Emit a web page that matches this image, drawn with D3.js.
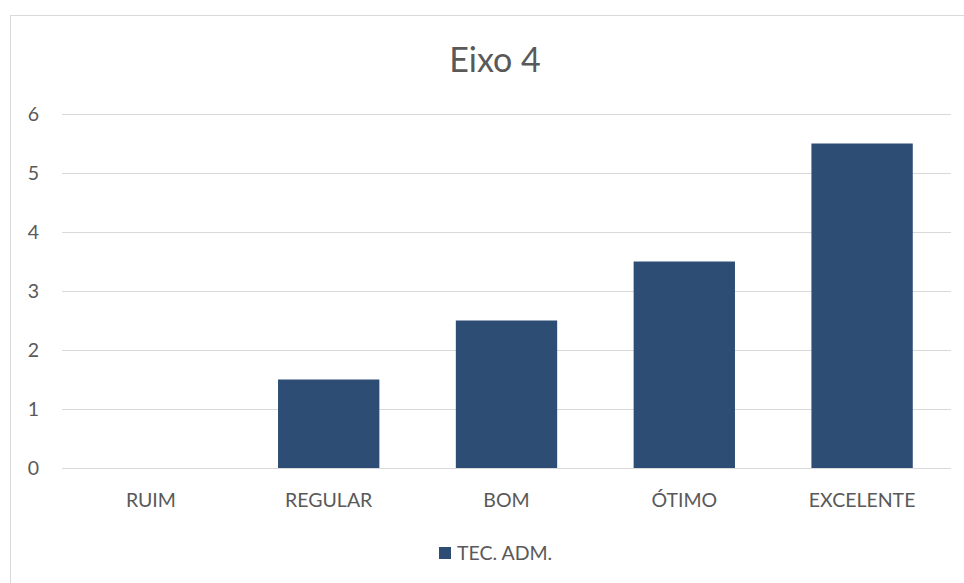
<html lang="pt">
<head>
    <meta charset="UTF-8">
    <title>Eixo 4</title>
    <style>
        body { margin: 0; background: #fff; }
        svg#chart { display: block; font-family: Lato, "Open Sans", sans-serif; }
        .tick text { fill: #595959; font-size: 19.5px; font-family: Lato, "Open Sans", sans-serif; }
    </style>
</head>
<body>
    <svg id="chart"></svg>
    <script src="https://cdnjs.cloudflare.com/ajax/libs/d3/7.8.5/d3.min.js"></script>
    <script>
        // Data
        var categories = ["RUIM", "REGULAR", "BOM", "ÓTIMO", "EXCELENTE"];
        var values = [0, 1.5, 2.5, 3.5, 5.5];
        var yTicks = [0, 1, 2, 3, 4, 5, 6];
        var seriesName = "TEC. ADM.";

        var width = 964, height = 583;
        var margin = { top: 114, right: 13, bottom: 115, left: 62 };
        var barColour = "#2E4D74";

        var svg = d3.select("#chart")
            .attr("width", width)
            .attr("height", height);

        // chart border
        svg.append("rect")
            .attr("x", 10.5).attr("y", 15.5)
            .attr("width", width).attr("height", height)
            .attr("fill", "#fff")
            .attr("stroke", "#d9d9d9")
            .attr("stroke-width", 1);

        var x = d3.scaleBand()
            .domain(categories)
            .range([margin.left, width - margin.right])
            .paddingInner(0.43)
            .paddingOuter(0.215);

        var y = d3.scaleLinear()
            .domain([0, 6])
            .range([height - margin.bottom, margin.top]);

        // gridlines
        svg.append("g")
            .selectAll("line")
            .data(yTicks)
            .enter().append("line")
            .attr("x1", margin.left)
            .attr("x2", width - margin.right)
            .attr("y1", function(d) { return Math.round(y(d)) + 0.5; })
            .attr("y2", function(d) { return Math.round(y(d)) + 0.5; })
            .attr("stroke", "#d9d9d9")
            .attr("stroke-width", 1);

        // y axis labels
        var yAxis = svg.append("g")
            .attr("transform", "translate(" + (margin.left - 9) + ",0)")
            .call(d3.axisLeft(y).tickValues(yTicks).tickFormat(d3.format("d")).tickSize(0).tickPadding(14));
        yAxis.select(".domain").remove();

        // x axis labels
        var xAxis = svg.append("g")
            .attr("transform", "translate(0," + y(0) + ")")
            .call(d3.axisBottom(x).tickSize(0).tickPadding(25));
        xAxis.select(".domain").remove();

        // bars
        svg.append("g")
            .selectAll("rect")
            .data(values)
            .enter().append("rect")
            .attr("x", function(d, i) { return x(categories[i]); })
            .attr("width", x.bandwidth())
            .attr("y", function(d) { return y(d); })
            .attr("height", function(d) { return y(0) - y(d); })
            .attr("fill", barColour);

        // title
        svg.append("text")
            .attr("x", 495)
            .attr("y", 72)
            .attr("text-anchor", "middle")
            .attr("fill", "#595959")
            .style("font-size", "34px")
            .text("Eixo 4");

        // legend
        var legend = svg.append("g").attr("transform", "translate(439,547)");
        legend.append("rect")
            .attr("width", 12).attr("height", 12)
            .attr("fill", barColour);
        legend.append("text")
            .attr("x", 18)
            .attr("y", 12.5)
            .attr("fill", "#595959")
            .style("font-size", "19.5px")
            .text(seriesName);
    </script>
</body>
</html>
